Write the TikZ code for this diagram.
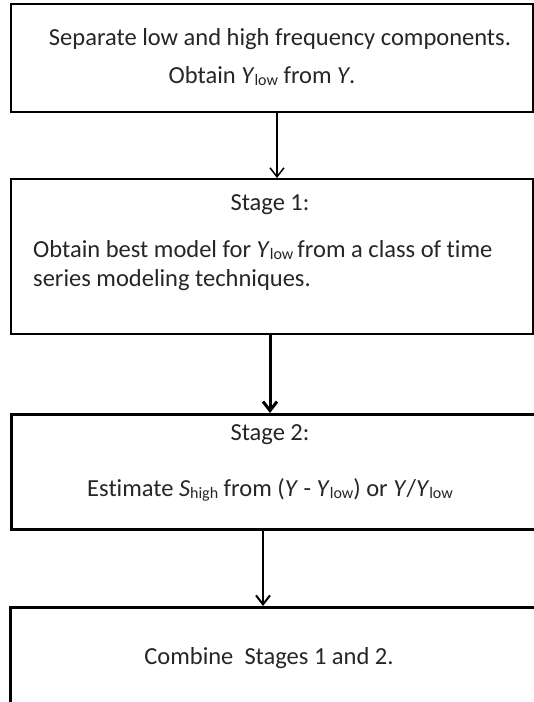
\documentclass[tikz,border=0pt]{standalone}
\usepackage{fontspec}
\setmainfont[Ligatures=NoCommon]{Carlito}
\usetikzlibrary{arrows.meta}
\newcommand{\mysub}[1]{\raisebox{-2pt}{\fontsize{16}{16}\selectfont #1}}
\newcommand{\myY}{\textit{Y}}
\newcommand{\myYlow}{\textit{Y}\mysub{low}}
\begin{document}
\begin{tikzpicture}[x=1pt,y=-1pt,
  box/.style={draw, line width=2pt, rectangle, anchor=north west, inner sep=0pt},
  txt/.style={inner sep=0pt, text=black!85, font=\fontsize{24.5}{29}\selectfont},
  thinarrow/.style={line width=1.5pt, -{Straight Barb[length=9pt,width=14pt,line width=1.5pt]}},
  thickarrow/.style={line width=3pt, -{Straight Barb[length=9pt,width=14pt,line width=3pt]}},
  midarrow/.style={line width=2pt, -{Straight Barb[length=9pt,width=14pt,line width=2pt]}}]
\useasboundingbox (0,0) rectangle (534,702);
\clip (0,0) rectangle (534,702);
\fill[white] (0,0) rectangle (534,702);
% boxes
\node[box, minimum width=522pt, minimum height=108pt] (b1) at (10,3) {};
\node[box, minimum width=522pt, minimum height=155pt] (b2) at (10,178) {};
\node[box, line width=2.5pt, minimum width=560pt, minimum height=115pt] (b3) at (10,413) {};
\node[box, line width=2.5pt, minimum width=560pt, minimum height=140pt] (b4) at (9,606) {};
% texts
\node[txt] (t1a) at (280,39) {Separate low and high frequency components.};
\node[txt] (t1b) at (262,76) {Obtain \myYlow{} from \myY.};
\node[txt] (t2a) at (270,205) {Stage 1:};
\node[txt, anchor=west] (t2b) at (33,250) {Obtain best model for \myYlow\,from a class of time};
\node[txt, anchor=west] (t2c) at (33,280) {series modeling techniques.};
\node[txt] (t3a) at (270,435) {Stage 2:};
\node[txt] (t3b) at (270,490) {Estimate \textit{S}\mysub{high} from (\myY{} - \myYlow) or \myY/\myYlow};
\node[txt] (t4) at (269,658) {Combine\ \ Stages 1 and 2.};
% connectors
\draw[thinarrow] ([xshift=5pt]b1.south) -- ([xshift=5pt]b1.south |- b2.north);
\draw[thickarrow] ([xshift=-2pt]b2.south) -- ([xshift=-2pt]b2.south |- b3.north);
\draw[midarrow] ([xshift=-9pt]b3.south -| b2.south) -- ([xshift=-9pt]b2.south |- b4.north);
\end{tikzpicture}
\end{document}
